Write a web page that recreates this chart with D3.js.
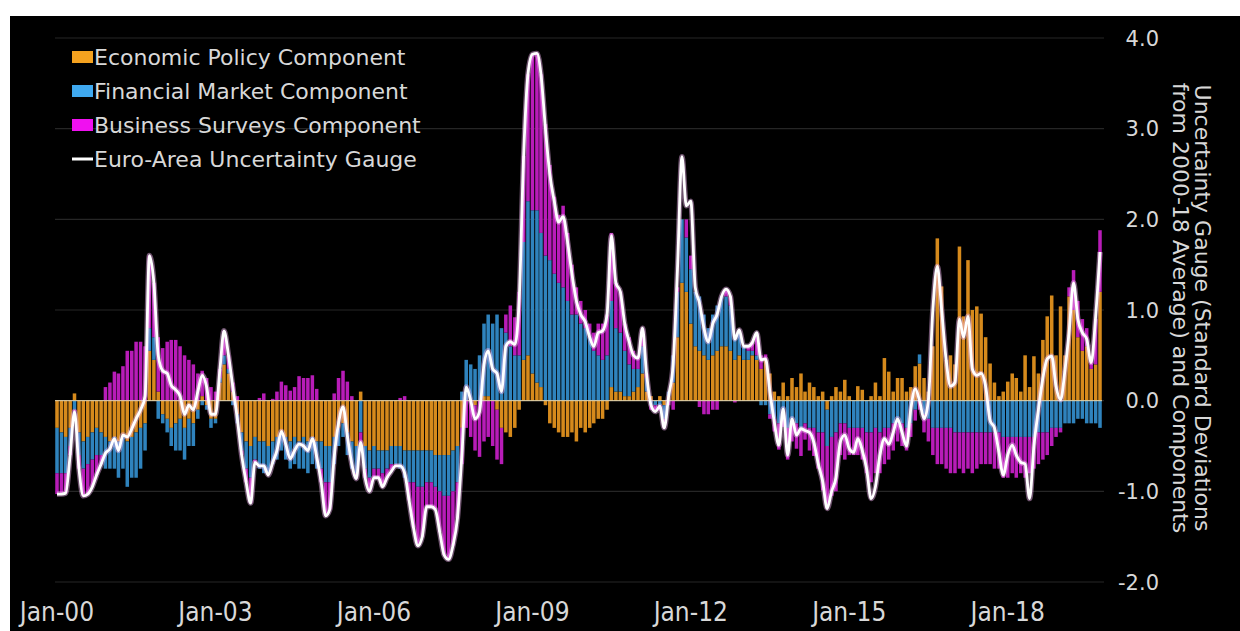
<!DOCTYPE html>
<html>
<head>
<meta charset="utf-8">
<script src="https://cdn.jsdelivr.net/npm/d3@7"></script>
<style>
  body { margin: 0; background: #fff; }
  text { font-family: "DejaVu Sans", sans-serif; fill: #d8d8d8; }
</style>
</head>
<body>
<div id="chart"></div>
<script>
// monthly data, Jan-2000 .. Oct-2019 (one row per year)
var gauge = [
  -1.03,-1.03,-1.02,-0.6,-0.12,-0.75,-1.05,-1.03,-0.95,-0.82,-0.7,-0.58,
  -0.53,-0.42,-0.55,-0.38,-0.4,-0.31,-0.2,-0.1,0.05,1.6,1.3,0.5,
  0.33,0.3,0.17,0.12,0.05,-0.15,-0.05,-0.1,0.1,0.28,0.15,-0.15,
  -0.15,0.35,0.77,0.5,0.15,-0.2,-0.6,-0.9,-1.13,-0.68,-0.72,-0.72,
  -0.82,-0.68,-0.55,-0.34,-0.48,-0.64,-0.55,-0.48,-0.5,-0.55,-0.42,-0.62,
  -0.9,-1.27,-1.2,-0.62,-0.25,-0.07,-0.39,-0.7,-0.86,-0.46,-0.85,-1.0,
  -0.85,-0.85,-0.95,-0.85,-0.78,-0.72,-0.72,-0.8,-1.1,-1.4,-1.6,-1.5,
  -1.17,-1.17,-1.2,-1.45,-1.7,-1.75,-1.6,-1.3,-0.6,0.15,0.0,-0.2,
  -0.12,0.4,0.55,0.35,0.3,0.1,0.6,0.65,0.62,1.1,2.7,3.6,
  3.82,3.83,3.6,3.0,2.5,2.2,1.97,2.03,1.75,1.4,1.1,0.95,
  0.87,0.7,0.6,0.75,0.77,0.95,1.82,1.3,1.2,0.85,0.65,0.5,
  0.47,0.8,0.3,-0.05,-0.12,-0.06,-0.3,0.05,0.4,1.45,2.69,2.15,
  2.2,1.25,1.08,0.8,0.65,0.85,0.95,1.15,1.23,1.15,0.68,0.78,
  0.6,0.6,0.64,0.75,0.45,0.46,0.1,-0.24,-0.49,-0.09,-0.6,-0.2,
  -0.38,-0.31,-0.33,-0.35,-0.46,-0.7,-0.89,-1.19,-1.0,-0.85,-0.45,-0.38,
  -0.53,-0.57,-0.42,-0.55,-0.75,-1.08,-0.95,-0.6,-0.42,-0.48,-0.35,-0.2,
  -0.35,-0.5,-0.1,0.13,0.0,-0.2,0.0,1.0,1.48,1.0,0.45,0.16,
  0.2,0.9,0.7,0.93,0.35,0.28,0.3,0.16,-0.22,-0.3,-0.57,-0.82,
  -0.6,-0.49,-0.6,-0.68,-0.7,-1.08,-0.5,-0.1,0.25,0.46,0.49,0.16,
  0.01,0.34,0.75,1.3,0.9,0.75,0.68,0.42,0.93,1.64
];

var econ = [
  -0.3,-0.35,-0.4,-0.3,0.08,-0.35,-0.45,-0.4,-0.35,-0.3,-0.35,-0.4,
  -0.45,-0.4,-0.45,-0.4,-0.45,-0.4,-0.35,-0.3,-0.25,0.55,0.45,0.1,
  -0.15,-0.2,-0.3,-0.25,-0.2,-0.3,-0.2,-0.25,-0.1,0.05,-0.05,-0.2,
  -0.2,0.2,0.4,0.3,0.1,-0.15,-0.35,-0.45,-0.5,-0.4,-0.45,-0.45,
  -0.5,-0.45,-0.4,-0.35,-0.4,-0.45,-0.4,-0.45,-0.4,-0.45,-0.4,-0.45,
  -0.45,-0.5,-0.5,-0.4,-0.3,-0.25,-0.35,-0.45,-0.5,0.1,-0.5,-0.55,
  -0.5,-0.55,-0.55,-0.55,-0.5,-0.5,-0.5,-0.55,-0.55,-0.55,-0.55,-0.55,
  -0.55,-0.55,-0.6,-0.6,-0.6,-0.6,-0.55,-0.5,-0.3,0.0,0.0,-0.05,
  0.0,0.05,0.05,0.0,-0.1,-0.3,-0.35,-0.4,-0.3,-0.1,0.45,0.5,
  0.3,0.2,0.15,-0.05,-0.25,-0.3,-0.35,-0.4,-0.4,-0.35,-0.45,-0.3,
  -0.35,-0.3,-0.25,-0.2,-0.2,-0.1,0.15,0.1,0.1,0.05,0.05,0.1,
  0.15,0.3,0.1,0.05,0.0,0.05,-0.05,0.05,0.2,0.7,1.3,1.2,
  0.85,0.6,0.55,0.5,0.45,0.5,0.55,0.6,0.6,0.55,0.45,0.5,
  0.45,0.45,0.5,0.45,0.35,0.45,0.3,0.1,0.05,0.2,0.05,0.25,
  0.15,0.3,0.1,0.2,0.15,0.05,0.1,-0.1,0.05,0.15,0.1,0.23,
  0.05,0.0,0.16,0.12,0.0,0.05,0.2,0.05,0.47,0.32,0.1,0.25,
  0.25,0.1,0.15,0.38,0.41,0.25,0.1,0.6,1.79,1.26,0.45,0.5,
  0.4,1.7,0.93,1.55,1.0,1.04,0.96,0.7,0.41,0.2,0.05,0.1,
  0.21,0.3,0.25,0.1,0.5,0.15,0.49,0.3,0.67,0.93,1.16,0.5,
  1.04,0.5,1.15,1.0,0.7,0.55,0.6,0.35,0.4,1.2
];

var fin = [
  -0.5,-0.45,-0.4,-0.2,-0.1,-0.25,-0.3,-0.3,-0.3,-0.3,-0.25,-0.35,
  -0.3,-0.35,-0.4,-0.35,-0.5,-0.45,-0.5,-0.45,-0.3,0.25,0.25,-0.2,
  -0.1,-0.15,-0.2,-0.3,-0.35,-0.35,-0.3,-0.25,-0.1,-0.05,-0.05,-0.1,
  -0.05,0.05,0.1,0.05,-0.05,-0.1,-0.2,-0.3,-0.35,-0.25,-0.3,-0.35,
  -0.3,-0.25,-0.25,-0.2,-0.25,-0.3,-0.3,-0.3,-0.35,-0.35,-0.3,-0.3,
  -0.3,-0.4,-0.4,-0.3,-0.2,-0.15,-0.25,-0.3,-0.3,-0.35,-0.25,-0.3,
  -0.25,-0.2,-0.25,-0.2,-0.2,-0.2,-0.25,-0.3,-0.35,-0.35,-0.4,-0.4,
  -0.35,-0.35,-0.35,-0.4,-0.45,-0.45,-0.45,-0.4,0.1,0.45,0.4,0.35,
  0.5,0.8,0.9,0.85,0.95,0.8,0.75,0.6,0.5,0.5,1.3,1.7,
  1.8,1.9,1.7,1.6,1.55,1.4,1.3,1.25,1.1,0.95,0.95,0.85,
  0.8,0.7,0.55,0.5,0.45,0.5,0.95,0.7,0.65,0.5,0.35,0.25,
  0.2,0.3,0.15,-0.05,-0.05,-0.05,-0.15,0.05,0.3,0.5,0.7,0.6,
  0.6,0.6,0.6,0.45,0.35,0.45,0.5,0.55,0.55,0.5,0.25,0.25,
  0.15,0.1,0.05,0.05,-0.05,-0.05,-0.15,-0.2,-0.25,-0.2,-0.3,-0.25,
  -0.25,-0.3,-0.25,-0.3,-0.3,-0.35,-0.35,-0.4,-0.4,-0.35,-0.25,-0.25,
  -0.3,-0.3,-0.3,-0.3,-0.35,-0.35,-0.3,-0.35,-0.3,-0.3,-0.25,-0.25,
  -0.25,-0.3,-0.25,-0.1,0.1,-0.15,-0.2,-0.3,-0.3,-0.3,-0.3,-0.3,
  -0.35,-0.35,-0.35,-0.35,-0.35,-0.35,-0.35,-0.35,-0.35,-0.35,-0.35,-0.4,
  -0.4,-0.4,-0.4,-0.4,-0.4,-0.4,-0.4,-0.35,-0.35,-0.35,-0.3,-0.3,
  -0.3,-0.25,-0.25,-0.25,-0.2,-0.2,-0.25,-0.25,-0.25,-0.3
];

var bus = [
  -0.23,-0.23,-0.22,-0.1,-0.1,-0.15,-0.3,-0.33,-0.3,-0.22,-0.1,0.15,
  0.2,0.32,0.3,0.38,0.55,0.55,0.65,0.65,0.6,0.8,0.6,0.6,
  0.58,0.65,0.67,0.67,0.6,0.5,0.45,0.4,0.3,0.28,0.25,0.15,
  0.1,0.1,0.27,0.15,0.1,0.05,-0.05,-0.15,-0.28,-0.03,0.03,0.08,
  -0.02,0.02,0.1,0.21,0.17,0.11,0.15,0.27,0.25,0.25,0.28,0.13,
  -0.15,-0.37,-0.3,0.08,0.25,0.33,0.21,0.05,-0.06,-0.21,-0.1,-0.15,
  -0.1,-0.1,-0.15,-0.1,-0.08,-0.02,0.03,0.05,-0.2,-0.5,-0.65,-0.55,
  -0.27,-0.27,-0.25,-0.45,-0.65,-0.7,-0.6,-0.4,-0.4,-0.3,-0.4,-0.5,
  -0.62,-0.45,-0.4,-0.5,-0.55,-0.4,0.2,0.45,0.42,0.7,0.95,1.4,
  1.72,1.73,1.75,1.45,1.05,0.85,0.75,0.9,0.75,0.55,0.3,0.25,
  0.2,0.15,0.2,0.35,0.4,0.45,0.75,0.5,0.45,0.3,0.3,0.2,
  0.15,0.2,0.05,-0.05,-0.07,-0.06,-0.1,-0.05,-0.1,0.05,0.0,0.2,
  0.15,0.0,-0.07,-0.15,-0.15,-0.1,-0.1,0.0,0.08,0.1,-0.02,0.03,
  0.0,0.05,0.09,0.25,0.15,0.06,-0.05,-0.14,-0.29,-0.09,-0.35,-0.2,
  -0.28,-0.31,-0.18,-0.25,-0.31,-0.4,-0.64,-0.69,-0.65,-0.65,-0.35,-0.4,
  -0.3,-0.3,-0.3,-0.35,-0.45,-0.55,-0.5,-0.45,-0.4,-0.35,-0.3,-0.2,
  -0.25,-0.25,-0.15,-0.12,-0.1,-0.2,-0.25,-0.3,-0.4,-0.4,-0.45,-0.5,
  -0.45,-0.4,-0.45,-0.4,-0.45,-0.4,-0.35,-0.35,-0.35,-0.4,-0.4,-0.45,
  -0.45,-0.4,-0.45,-0.4,-0.45,-0.4,-0.35,-0.35,-0.3,-0.25,-0.2,-0.1,
  -0.05,0.0,0.1,0.44,0.4,0.35,0.2,0.1,0.5,0.68
];

var seriesNames = ["Economic Policy Component", "Financial Market Component", "Business Surveys Component"];
var lineName = "Euro-Area Uncertainty Gauge";
var yTicks = [-2, -1, 0, 1, 2, 3, 4];
var xTickYears = [2000, 2003, 2006, 2009, 2012, 2015, 2018];
var titleLines = ["Uncertainty Gauge (Standard Deviations", "from 2000-18 Average) and Components"];

var barColors = ["#d68a1c", "#2f83bd", "#b81cb8"];
var swatchColors = ["#f5a21f", "#3fa9f0", "#f010f0"];

var svgWidth = 1240;
var svgHeight = 631;

// months as dates
var data = gauge.map(function(g, i) {
  return { date: new Date(2000, i, 1), econ: econ[i], fin: fin[i], bus: bus[i], gauge: g };
});

var svg = d3.select("#chart")
  .append("svg")
  .attr("width", svgWidth)
  .attr("height", svgHeight);

// black panel
svg.append("rect")
  .attr("x", 10).attr("y", 16)
  .attr("width", svgWidth - 10).attr("height", svgHeight - 16)
  .attr("fill", "#000");

var x = d3.scaleTime()
  .domain([data[0].date, data[data.length - 1].date])
  .range([57, 1100]);

var y = d3.scaleLinear()
  .domain([-2, 4])
  .range([582, 38]);

var step = (x.range()[1] - x.range()[0]) / (data.length - 1);
var barW = step * 0.8;

// grid lines
svg.append("g")
  .selectAll("line")
  .data(yTicks)
  .enter().append("line")
  .attr("x1", 55).attr("x2", 1104)
  .attr("y1", d => y(d)).attr("y2", d => y(d))
  .attr("stroke", "#262626")
  .attr("stroke-width", 1.2);

// stacked bars, positives up and negatives down
var stack = d3.stack()
  .keys(["econ", "fin", "bus"])
  .offset(d3.stackOffsetDiverging);

var layers = stack(data);

svg.append("g")
  .selectAll("g")
  .data(layers)
  .enter().append("g")
  .attr("fill", (d, i) => barColors[i])
  .selectAll("rect")
  .data(d => d)
  .enter().append("rect")
  .attr("x", d => x(d.data.date) - barW / 2)
  .attr("width", barW)
  .attr("y", d => y(Math.max(d[0], d[1])))
  .attr("height", d => Math.abs(y(d[0]) - y(d[1])));

// zero line
svg.append("line")
  .attr("x1", 55).attr("x2", 1102)
  .attr("y1", y(0)).attr("y2", y(0))
  .attr("stroke", "#e8d8b0")
  .attr("stroke-width", 1);

// gauge line
var line = d3.line()
  .x(d => x(d.date))
  .y(d => y(d.gauge))
  .curve(d3.curveMonotoneX);

svg.append("path")
  .datum(data)
  .attr("d", line)
  .attr("fill", "none")
  .attr("stroke", "#f3b8f3")
  .attr("stroke-opacity", 0.45)
  .attr("stroke-width", 5.5);

svg.append("path")
  .datum(data)
  .attr("d", line)
  .attr("fill", "none")
  .attr("stroke", "#fff")
  .attr("stroke-width", 2.8)
  .attr("stroke-linejoin", "round");

// right axis labels (plain hyphen for minus, as in the original)
svg.append("g")
  .selectAll("text")
  .data(yTicks)
  .enter().append("text")
  .attr("x", 1159)
  .attr("y", d => y(d))
  .attr("dy", "0.36em")
  .attr("text-anchor", "end")
  .style("font-size", "21px")
  .text(d => d3.format(".1f")(d).replace("\u2212", "-"));

// axis title, rotated
titleLines.forEach(function(t, i) {
  svg.append("text")
    .attr("transform", `translate(${1195 - i * 22}, 308) rotate(90)`)
    .attr("text-anchor", "middle")
    .style("font-size", "22px")
    .text(t);
});

// bottom labels
svg.append("g")
  .selectAll("text")
  .data(xTickYears)
  .enter().append("text")
  .attr("x", d => x(new Date(d, 0, 1)))
  .attr("y", 621)
  .attr("text-anchor", "middle")
  .style("font-family", "'DejaVu Sans Condensed', sans-serif")
  .style("font-size", "26px")
  .text(d => d3.timeFormat("%b-%y")(new Date(d, 0, 1)));

// legend
var legend = svg.append("g");
seriesNames.forEach(function(name, i) {
  var cy = 57 + i * 34;
  legend.append("rect")
    .attr("x", 72).attr("y", cy - 6)
    .attr("width", 21).attr("height", 12)
    .attr("fill", swatchColors[i]);
  legend.append("text")
    .attr("x", 94).attr("y", cy)
    .attr("dy", "0.36em")
    .style("font-size", "22px")
    .text(name);
});
legend.append("line")
  .attr("x1", 72).attr("x2", 93)
  .attr("y1", 57 + 3 * 34).attr("y2", 57 + 3 * 34)
  .attr("stroke", "#fff").attr("stroke-width", 3);
legend.append("text")
  .attr("x", 94).attr("y", 57 + 3 * 34)
  .attr("dy", "0.36em")
  .style("font-size", "22px")
  .text(lineName);
</script>
</body>
</html>
